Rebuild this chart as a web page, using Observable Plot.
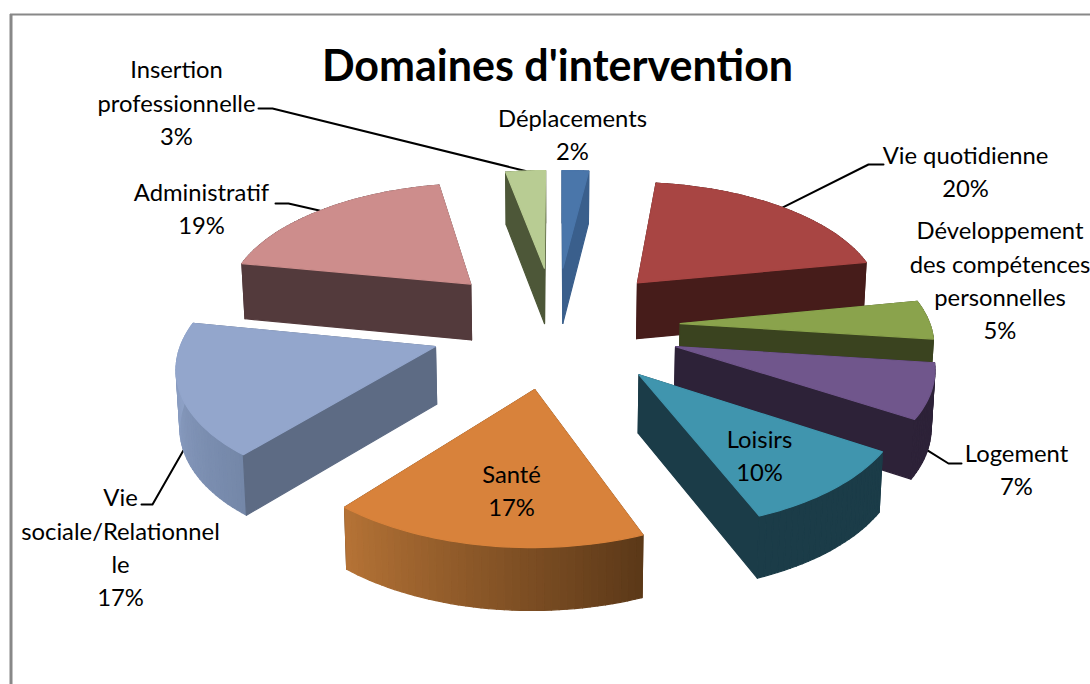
<!DOCTYPE html>
<html>
<head>
<meta charset="utf-8">
<style>html,body{margin:0;padding:0;background:#fff;overflow:hidden}svg{display:block}</style>
<script src="https://cdn.jsdelivr.net/npm/d3@7"></script>
<script src="https://cdn.jsdelivr.net/npm/@observablehq/plot@0.6"></script>
</head>
<body>
<script>
const categories = ["Déplacements","Vie quotidienne","Développement des compétences personnelles","Logement","Loisirs","Santé","Vie sociale/Relationnelle","Administratif","Insertion professionnelle"];
const shares = [2,20,5,7,10,17,17,19,3];
const labelLines = ["Déplacements","Vie quotidienne","Développement\ndes compétences\npersonnelles","Logement","Loisirs","Santé","Vie\nsociale/Relationnel\nle","Administratif","Insertion\nprofessionnelle"];
const labelX = [572,965,999.5,1016,759,511,120,201,176];
const labelY = [135.5,172,281,470.5,456.5,491.5,548,209.5,103.5];
const topColors  = ["#4a76aa","#a84543","#8aa34c","#70568c","#4095ae","#d8823b","#93a6cc","#cd8d8c","#b8cc93"];
const sideColors = ["#3a5f8c","#461c1a","#3a431f","#2d2238","#1b3c48","#5b3818","#5d6b84","#533a3c","#4d5738"];
const wallFrom   = ["#3a5f8c","#461c1a","#3a431f","#2d2238","#1b3c48","#5b3818","#7487a8","#533a3c","#4d5738"];
const wallTo     = ["#3a5f8c","#461c1a","#3a431f","#2d2238","#1b3c48","#b57336","#93a6cc","#533a3c","#4d5738"];
// leader elbows, with the rim they reach ("top" or "bottom" edge of the slice)
const leaderSlices = [8,7,1,6,3];
const leaderRim = ["top","top","top","bottom","bottom"];
const leaderX = [[258,272],[275,288],[883,868],[141,152],[961,948]];
const leaderY = [[108,108],[203,203],[164,164],[504,504],[463,463]];

// perspective pie model
const cx=555, cy=325, A=250, B=122, k=0.12, explode=0.5, thick=57, rad=Math.PI/180;
const proj=(u,v,bottom)=>{
  const s=1/(1+k*v);
  return bottom
    ? {x:cx+A*u*s*0.99, y:cy-B*v*s+thick*Math.sqrt(s)}
    : {x:cx+A*u*s, y:cy-B*v*s};
};
let acc=0;
const slices=shares.map((p,i)=>{
  const a0=acc/100*360; acc+=p; const a1=acc/100*360; const m=(a0+a1)/2;
  return {i,a0,a1,m,ou:explode*Math.sin(m*rad),ov:explode*Math.cos(m*rad)};
});
const rimPt=(s,a,b)=>proj(s.ou+Math.sin(a*rad),s.ov+Math.cos(a*rad),b);

const polys=[];
let pid=0;
const addPoly=(pts,c)=>{const id=pid++;[...pts,pts[0]].forEach(p=>polys.push({id,x:p.x,y:p.y,c}));};
[...slices].sort((a,b)=>Math.cos(b.m*rad)-Math.cos(a.m*rad)).forEach(s=>{
  const n=Math.max(3,Math.ceil((s.a1-s.a0)/1.5));
  const angs=d3.range(n+1).map(j=>s.a0+(s.a1-s.a0)*j/n);
  const apexT=proj(s.ou,s.ov,false), apexB=proj(s.ou,s.ov,true);
  const walls=[];
  [s.a0,s.a1].forEach(a=>{
    walls.push({d:s.ov+Math.cos(a*rad)/2,draw:()=>addPoly([apexT,rimPt(s,a,false),rimPt(s,a,true),apexB],sideColors[s.i])});
  });
  const interp=d3.interpolateRgb(wallFrom[s.i],wallTo[s.i]);
  walls.push({d:s.ov+Math.cos(s.m*rad),draw:()=>{
    for(let j=0;j<n;j++){
      addPoly([rimPt(s,angs[j],false),rimPt(s,angs[j+1],false),rimPt(s,angs[j+1],true),rimPt(s,angs[j],true)],d3.color(interp((j+.5)/n)).formatHex());
    }
  }});
  walls.sort((a,b)=>b.d-a.d).forEach(w=>w.draw());
  addPoly([apexT,...angs.map(a=>rimPt(s,a,false))],topColors[s.i]);
});

const leaders=[];
leaderSlices.forEach((si,i)=>{
  leaderX[i].forEach((x,j)=>leaders.push({id:i,x,y:leaderY[i][j]}));
  const s=slices[si];
  const p=rimPt(s,s.m,leaderRim[i]==="bottom");
  leaders.push({id:i,x:p.x,y:p.y});
});

const labels=slices.map(s=>({t:`${labelLines[s.i]}\n${shares[s.i]}%`,x:labelX[s.i],y:labelY[s.i]-3}));
const font="Lato, 'Open Sans', sans-serif";

const chart=Plot.plot({
  width:1090,height:684,margin:0,
  x:{domain:[0,1090],range:[0,1090],axis:null},
  y:{domain:[0,684],range:[0,684],axis:null},
  color:{type:"identity"},
  style:{background:"#fff"},
  marks:[
    Plot.ruleX([10.5],{y1:14,y2:684,stroke:"#888",strokeWidth:3}),
    Plot.ruleY([14],{x1:10,x2:1090,stroke:"#888",strokeWidth:2}),
    Plot.line(leaders,{x:"x",y:"y",z:"id",stroke:"#000",strokeWidth:2,curve:"linear"}),
    Plot.line(polys,{x:"x",y:"y",z:"id",fill:"c",stroke:"c",strokeWidth:1.2,strokeLinejoin:"round",curve:"linear"}),
    Plot.text(labels,{x:"x",y:"y",text:"t",fontSize:23.8,lineHeight:1.4,lineAnchor:"middle",textAnchor:"middle",fill:"#000",fontFamily:font}),
    Plot.text(["Domaines d'intervention"],{x:()=>557,y:()=>67,text:d=>d,fontSize:43,fontWeight:"bold",textAnchor:"middle",lineAnchor:"middle",fill:"#000",fontFamily:font})
  ]
});
document.body.appendChild(chart);
</script>
</body>
</html>
